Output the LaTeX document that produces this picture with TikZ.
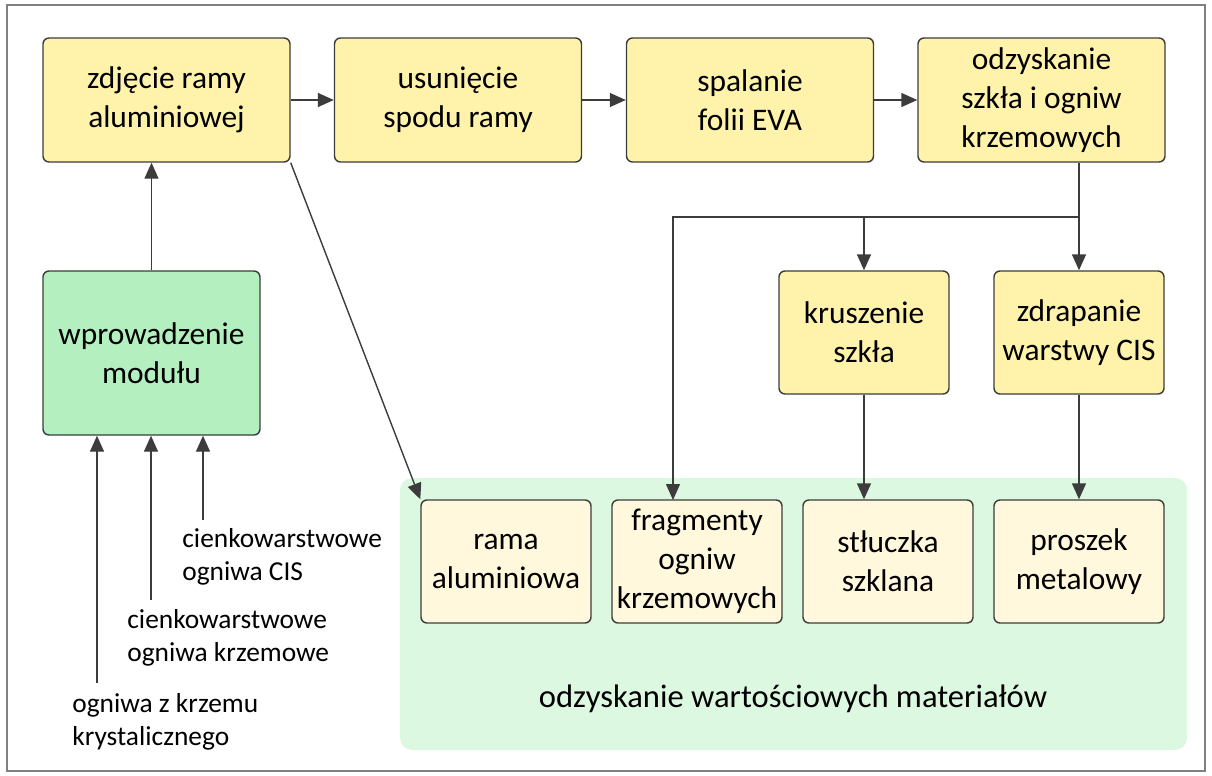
\documentclass[tikz,border=0pt]{standalone}
\usepackage{fontspec}
\setmainfont{Carlito}
\usetikzlibrary{arrows.meta, calc}
\definecolor{stepyellow}{HTML}{FFF2AB}
\definecolor{cream}{HTML}{FFF8DC}
\definecolor{modgreen}{HTML}{B3EFBF}
\definecolor{areagreen}{HTML}{DDF8E1}
\definecolor{edge}{HTML}{3C3C3C}

\begin{document}
\begin{tikzpicture}[x=0.5pt, y=-0.5pt,
    box/.style={draw=edge, line width=0.7pt, rounded corners=3pt, align=center, inner sep=0pt,
        font=\fontsize{15.7}{19.5}\selectfont},
    topbox/.style={box, fill=stepyellow, minimum width=123.5pt, minimum height=62pt},
    midbox/.style={box, fill=stepyellow, minimum width=85pt, minimum height=61.5pt},
    outbox/.style={box, fill=cream, minimum width=85pt, minimum height=61.5pt},
    sidetext/.style={align=left, inner sep=0pt, anchor=north west, font=\fontsize{13.7}{16.5}\selectfont},
    arr/.style={draw=edge, line width=0.7pt, -{Triangle[length=8pt, width=7pt]}}]
\useasboundingbox (0,0) rectangle (1212,776);
\draw[gray, line width=0.8pt] (7,5) rectangle (1205,771);

% area of recovered materials
\fill[areagreen, rounded corners=6pt] (400,478) rectangle (1187,750);
\node[font=\fontsize{16.3}{19.5}\selectfont, anchor=base] (areatxt) at (793,707) {odzyskanie wartościowych materiałów};

% process steps
\node[topbox] (frame) at (166.5,100) {zdjęcie ramy\\aluminiowej};
\node[topbox] (bottom) at (458,100) {usunięcie\\spodu ramy};
\node[topbox] (eva) at (750,100) {spalanie\\folii EVA};
\node[topbox] (glass) at (1041.5,100) {odzyskanie\\szkła i ogniw\\krzemowych};
\node[box, fill=modgreen, minimum width=108.5pt, minimum height=82pt] (module) at (151.5,353) {wprowadzenie\\modułu};
\node[midbox] (crush) at (864,332.5) {kruszenie\\szkła};
\node[midbox] (scrape) at (1079,332.5) {zdrapanie\\warstwy CIS};

% outputs
\node[outbox] (alu) at (506,561.5) {rama\\aluminiowa};
\node[outbox] (frag) at (697,561.5) {fragmenty\\ogniw\\krzemowych};
\node[outbox] (cullet) at (888,561.5) {stłuczka\\szklana};
\node[outbox] (powder) at (1079,561.5) {proszek\\metalowy};

% module types
\node[sidetext] (cis) at (182,528) {cienkowarstwowe\\ogniwa CIS};
\node[sidetext] (thin) at (127,609) {cienkowarstwowe\\ogniwa krzemowe};
\node[sidetext] (cryst) at (72,693) {ogniwa z krzemu\\krystalicznego};
\coordinate (in1) at (97,683);
\coordinate (in2) at (151,600);
\coordinate (in3) at (203,520);
\draw[arr] (in1) -- (in1 |- module.south);
\draw[arr] (in2) -- (in2 |- module.south);
\draw[arr] (in3) -- (in3 |- module.south);

% flow
\draw[arr] (module.north) -- (module.north |- frame.south);
\draw[arr] (frame) -- (bottom);
\draw[arr] (bottom) -- (eva);
\draw[arr] (eva) -- (glass);
\draw[arr] (frame.south east) -- (alu.north west);
\coordinate (bus) at (1079,217);
\coordinate (fragin) at (673,500);
\draw[draw=edge, line width=0.7pt] (scrape.north |- glass.south) -- (bus);
\draw[arr] (bus) -| (fragin);
\draw[arr] (bus) -- (scrape.north);
\draw[arr] (bus -| crush.north) -- (crush.north);
\draw[arr] (crush.south) -- (crush.south |- cullet.north);
\draw[arr] (scrape.south) -- (powder.north);

\end{tikzpicture}
\end{document}
